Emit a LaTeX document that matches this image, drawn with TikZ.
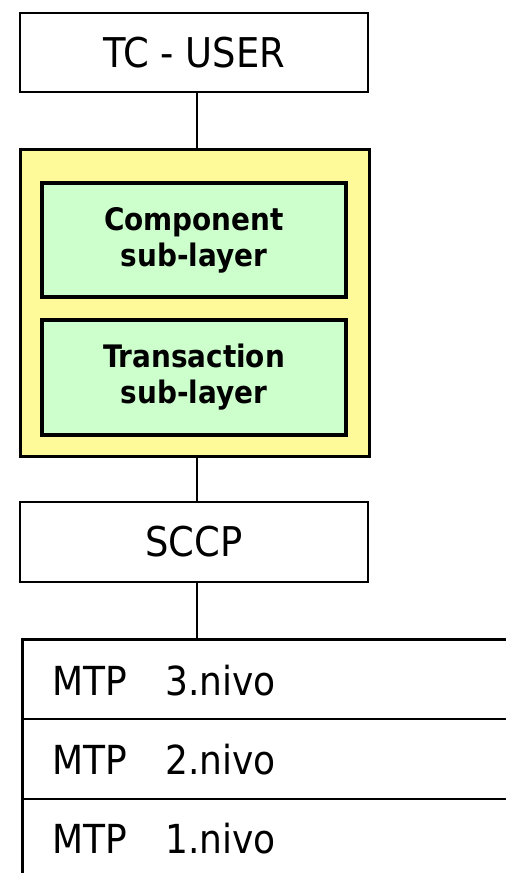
\documentclass[tikz,border=0pt]{standalone}
\usepackage{fontspec}
\setmainfont{DejaVu Sans Condensed}
\begin{document}
\begin{tikzpicture}[x=1pt,y=-1pt,
  layer/.style={draw=black,line width=2.8pt,fill=white,inner sep=0pt,
    font=\fontsize{41}{49}\selectfont},
  mtprow/.style={draw=black,line width=2.8pt,inner sep=0pt,anchor=north west,
    minimum width=520},
  group/.style={draw=black,line width=3pt,fill=yellow!40,inner sep=0pt},
  sub/.style={draw=black,line width=3.2pt,fill=green!20,inner sep=0pt,
    align=center,font=\bfseries\fontsize{31}{36}\selectfont},
  rowtext/.style={anchor=base west,inner sep=0pt,font=\fontsize{40}{48}\selectfont},
  link/.style={draw=black,line width=2.2pt}]
  \useasboundingbox (0,0) rectangle (506,873);
  \clip (0,0) rectangle (506,873);
  \fill[white] (0,0) rectangle (506,873);

  % TCAP user on top
  \node[layer,minimum width=348,minimum height=79] (tc) at (194,52.5) {TC - USER};

  % TCAP with its two sub-layers
  \node[group,minimum width=349,minimum height=307] (tcap) at (194.5,302.5) {};
  \node[sub,minimum width=304,minimum height=114] (comp) at (194,240) {Component\\sub-layer};
  \node[sub,minimum width=304,minimum height=115] (trans) at (194,377.5) {Transaction\\sub-layer};

  % SCCP
  \node[layer,minimum width=348,minimum height=80] (sccp) at (194,542) {SCCP};

  % MTP levels, running off the right and bottom edges
  \node[mtprow,minimum height=79.5] (m3) at (21,638) {};
  \node[mtprow,minimum height=80] (m2) at (21,717.5) {};
  \node[mtprow,minimum height=90] (m1) at (21,797.5) {};
  \node[rowtext] (m3a) at (52,695) {MTP};
  \node[rowtext] (m3b) at (165,695) {3.nivo};
  \node[rowtext] (m2a) at (52,774) {MTP};
  \node[rowtext] (m2b) at (165,774) {2.nivo};
  \node[rowtext] (m1a) at (52,853) {MTP};
  \node[rowtext] (m1b) at (165,853) {1.nivo};

  % vertical links between the layers
  \coordinate (ax) at (197,0);
  \draw[link] (tc.south -| ax) -- (tcap.north -| ax);
  \draw[link] (tcap.south -| ax) -- (sccp.north -| ax);
  \draw[link] (sccp.south -| ax) -- (m3.north -| ax);
\end{tikzpicture}
\end{document}
